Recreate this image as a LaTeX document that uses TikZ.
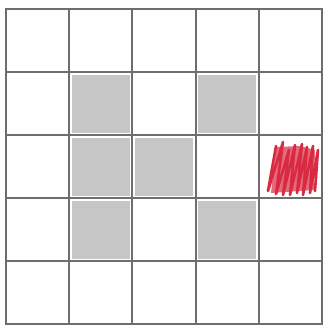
\documentclass[tikz,border=0pt]{standalone}
\usepackage{xcolor}
\usepackage{tikz}
\definecolor{gridgray}{HTML}{6E6E6E}
\definecolor{cellgray}{HTML}{C6C6C6}
\definecolor{markred}{HTML}{D92A42}
\begin{document}
\begin{tikzpicture}[x=1pt,y=-1pt,
  gridline/.style={line width=2pt, draw=gridgray},
  shade/.style={fill=cellgray},
  scribble/.style={draw=markred, line width=2.6pt, line cap=round, line join=round},
]
\useasboundingbox[fill=white] (0,0) rectangle (323,325);
% ---------- shaded cells (column/row, 0 at top left) ----------
\foreach \c/\r in {1/1, 3/1, 1/2, 2/2, 1/3, 3/3} {
  \pgfmathsetmacro{\xa}{6+\c*63.2+2.5}
  \pgfmathsetmacro{\ya}{9+\r*63+2.5}
  \fill[shade] (\xa,\ya) rectangle ++(58.2,58);
}
% ---------- red mark in column 4, row 2 ----------
\fill[markred!70] (276,147) -- (300,146) -- (315,150) -- (314,190) -- (271,193) -- cycle;
\draw[scribble] (276,146) -- (268,191) -- (283,142) -- (276,194) -- (289,150)
  -- (283,195) -- (295,145) -- (290,195) -- (302,144) -- (297,193)
  -- (307,147) -- (303,195) -- (313,146) -- (310,193) -- (318,150) -- (315,191);
% ---------- grid lines ----------
\foreach \k in {0,...,5} {
  \pgfmathsetmacro{\x}{6+\k*63.2}
  \pgfmathsetmacro{\y}{9+\k*63}
  \draw[gridline] (\x,9) -- (\x,325);
  \draw[gridline] (5,\y) -- (323,\y);
}
\end{tikzpicture}
\end{document}
